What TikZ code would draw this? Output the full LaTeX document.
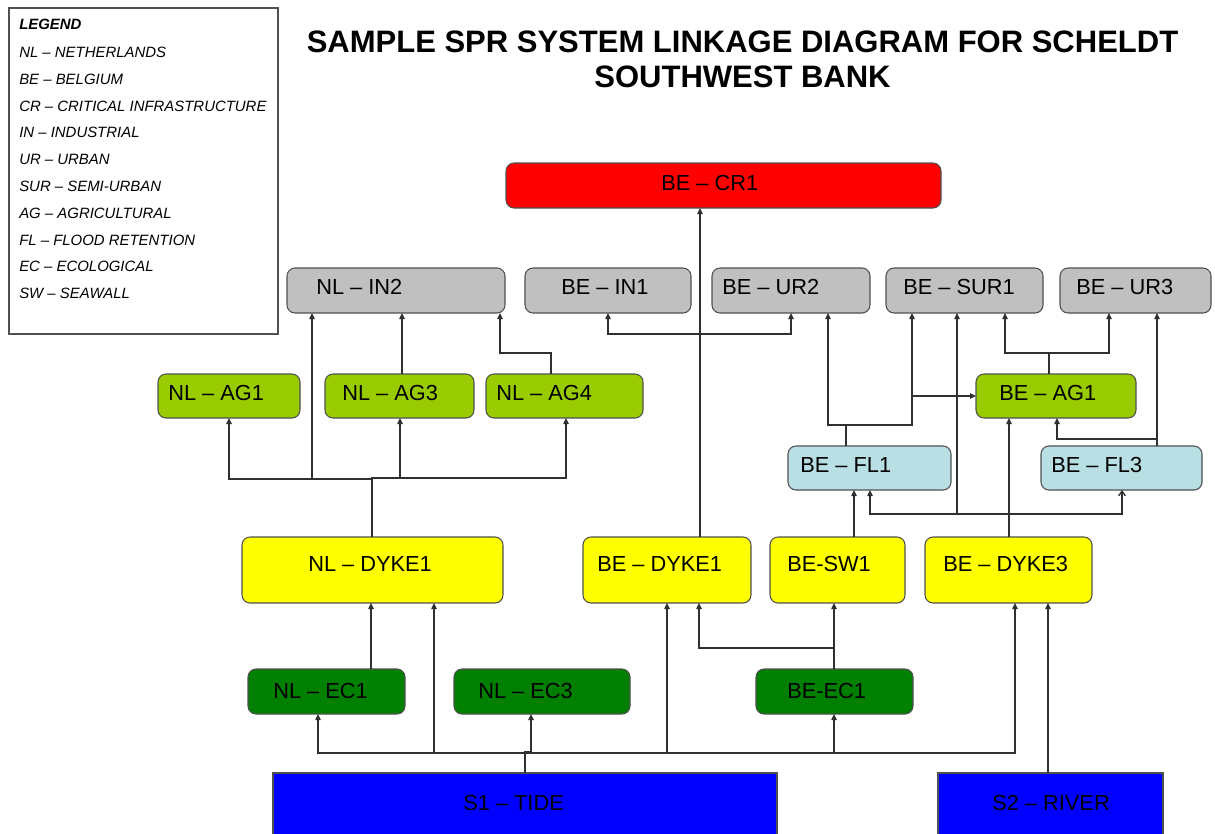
\documentclass[tikz,border=0pt]{standalone}
\usepackage{fontspec}
\setmainfont{Liberation Sans}
\usetikzlibrary{arrows.meta}
\definecolor{crred}{HTML}{FF0000}
\definecolor{boxgray}{HTML}{C0C0C0}
\definecolor{aggreen}{HTML}{99CC00}
\definecolor{flblue}{HTML}{B8E0E4}
\definecolor{dkyellow}{HTML}{FFFF00}
\definecolor{ecgreen}{HTML}{007F00}
\definecolor{srcblue}{HTML}{0000FF}
\definecolor{edge}{HTML}{505050}
\definecolor{wire}{HTML}{303030}
\newcommand\bx[6]{\node[#2, minimum width={(#5-#3)*0.75pt}, minimum height={(#6-#4)*0.75pt}] (#1) at ({(#3+#5)/2},{(#4+#6)/2}) {};}
\begin{document}
\begin{tikzpicture}[x=0.75pt,y=-0.75pt,
  box/.style={draw=edge, line width=0.8pt, rounded corners=6pt, inner sep=0pt, outer sep=0pt},
  srcbox/.style={draw=edge, line width=0.8pt, fill=srcblue, inner sep=0pt, outer sep=0pt},
  lbl/.style={anchor=base west, inner sep=0pt, font=\fontsize{16.35}{19}\selectfont},
  leg/.style={anchor=base west, inner sep=0pt, font=\fontsize{11.2}{13}\selectfont\itshape},
  ttl/.style={anchor=base, inner sep=0pt, font=\fontsize{23.25}{27}\selectfont\bfseries},
  link/.style={draw=wire, line width=1pt},
  arr/.style={link, -{Triangle[length=4.5pt,width=4pt]}},
  openarr/.style={link, -{Straight Barb[length=3.5pt,width=5pt]}}]
\useasboundingbox (0,0) rectangle (1215,833);
\fill[white] (0,0) rectangle (1215,833);
\clip (0,0) rectangle (1215,833);

% legend
\node[draw=edge, line width=0.8pt, inner sep=0pt, minimum width={269*0.75pt}, minimum height={326*0.75pt}] (legend) at (143.5,171) {};
\node[leg, font=\fontsize{11.2}{13}\selectfont\itshape\bfseries] (leg0) at (19,29.5) {LEGEND};
\node[leg] (leg1) at (19,57.5) {NL – NETHERLANDS};
\node[leg] (leg2) at (19,84.3) {BE – BELGIUM};
\node[leg] (leg3) at (19,111.1) {CR – CRITICAL INFRASTRUCTURE};
\node[leg] (leg4) at (19,137.9) {IN – INDUSTRIAL};
\node[leg] (leg5) at (19,164.7) {UR – URBAN};
\node[leg] (leg6) at (19,191.5) {SUR – SEMI-URBAN};
\node[leg] (leg7) at (19,218.3) {AG – AGRICULTURAL};
\node[leg] (leg8) at (19,245.1) {FL – FLOOD RETENTION};
\node[leg] (leg9) at (19,271.9) {EC – ECOLOGICAL};
\node[leg] (leg10) at (19,298.7) {SW – SEAWALL};

% title
\node[ttl] (title1) at (742.5,52) {SAMPLE SPR SYSTEM LINKAGE DIAGRAM FOR SCHELDT};
\node[ttl] (title2) at (742.5,87) {SOUTHWEST BANK};

% boxes
\bx{becr1}{box, fill=crred}{506}{163}{941}{208}
\bx{nlin2}{box, fill=boxgray}{287}{268}{505}{313}
\bx{bein1}{box, fill=boxgray}{525}{268}{691}{313}
\bx{beur2}{box, fill=boxgray}{712}{268}{870}{313}
\bx{besur1}{box, fill=boxgray}{886}{268}{1043}{313}
\bx{beur3}{box, fill=boxgray}{1060}{268}{1211}{313}
\bx{nlag1}{box, fill=aggreen}{158}{374}{300}{418}
\bx{nlag3}{box, fill=aggreen}{325}{374}{474}{418}
\bx{nlag4}{box, fill=aggreen}{486}{374}{643}{418}
\bx{beag1}{box, fill=aggreen}{976}{374}{1136}{418}
\bx{befl1}{box, fill=flblue}{788}{446}{951}{490}
\bx{befl3}{box, fill=flblue}{1041}{446}{1202}{490}
\bx{nldyke1}{box, fill=dkyellow}{242}{537}{503}{603}
\bx{bedyke1}{box, fill=dkyellow}{583}{537}{751}{603}
\bx{besw1}{box, fill=dkyellow}{770}{537}{905}{603}
\bx{bedyke3}{box, fill=dkyellow}{925}{537}{1092}{603}
\bx{nlec1}{box, fill=ecgreen}{248}{669}{405}{714}
\bx{nlec3}{box, fill=ecgreen}{454}{669}{630}{714}
\bx{beec1}{box, fill=ecgreen}{756}{669}{913}{714}
\bx{s1}{srcbox}{273}{773}{777}{850}
\bx{s2}{srcbox}{938}{773}{1163}{850}

% labels
\node[lbl] (becr1-t) at (661,190) {BE – CR1};
\node[lbl] (nlin2-t) at (316,294) {NL – IN2};
\node[lbl] (bein1-t) at (561,294) {BE – IN1};
\node[lbl] (beur2-t) at (722,294) {BE – UR2};
\node[lbl] (besur1-t) at (903,294) {BE – SUR1};
\node[lbl] (beur3-t) at (1076,294) {BE – UR3};
\node[lbl] (nlag1-t) at (168,400) {NL – AG1};
\node[lbl] (nlag3-t) at (342,400) {NL – AG3};
\node[lbl] (nlag4-t) at (496,400) {NL – AG4};
\node[lbl] (beag1-t) at (999,400) {BE – AG1};
\node[lbl] (befl1-t) at (800,472) {BE – FL1};
\node[lbl] (befl3-t) at (1051,472) {BE – FL3};
\node[lbl] (nldyke1-t) at (308,571) {NL – DYKE1};
\node[lbl] (bedyke1-t) at (597,571) {BE – DYKE1};
\node[lbl] (besw1-t) at (787,571) {BE-SW1};
\node[lbl] (bedyke3-t) at (943,571) {BE – DYKE3};
\node[lbl] (nlec1-t) at (273,698) {NL – EC1};
\node[lbl] (nlec3-t) at (478,698) {NL – EC3};
\node[lbl] (beec1-t) at (787,698) {BE-EC1};
\node[lbl] (s1-t) at (463,810) {S1 – TIDE};
\node[lbl] (s2-t) at (992,810) {S2 – RIVER};

% connectors from S1 - TIDE
\draw[arr] (s1.north) |- (318,753) -- (nlec1.south -| 318,0);
\draw[arr] (s1.north) |- (434,753) -- (nldyke1.south -| 434,0);
\draw[arr] (s1.north) |- (531,752) -- (nlec3.south -| 531,0);
\draw[arr] (s1.north) |- (667,753) -- (bedyke1.south -| 667,0);
\draw[arr] (s1.north) |- (834,753) -- (beec1.south -| 834,0);
\draw[arr] (s1.north) |- (1015,753) -- (bedyke3.south -| 1015,0);
% S2 - RIVER
\draw[arr] (s2.north -| 1048,0) -- (bedyke3.south -| 1048,0);
% ecological
\draw[arr] (nlec1.north -| 371,0) -- (nldyke1.south -| 371,0);
\draw[arr] (beec1.north -| 834,0) -- (besw1.south -| 834,0);
\draw[arr] (beec1.north -| 834,0) |- (699,648) -- (bedyke1.south -| 699,0);
% NL dyke
\draw[arr] (nldyke1.north -| 372,0) |- (229,479) -- (nlag1.south -| 229,0);
\draw[arr] (nldyke1.north -| 372,0) |- (312,479) -- (nlin2.south -| 312,0);
\draw[arr] (nldyke1.north -| 372,0) |- (400,478) -- (nlag3.south -| 400,0);
\draw[arr] (nldyke1.north -| 372,0) |- (566,478) -- (nlag4.south -| 566,0);
\draw[arr] (nlag3.north -| 402,0) -- (nlin2.south -| 402,0);
\draw[arr] (nlag4.north -| 551,0) |- (500,353) -- (nlin2.south -| 500,0);
% BE dyke 1
\draw[arr] (bedyke1.north -| 700,0) -- (becr1.south -| 700,0);
\draw[arr] (bedyke1.north -| 700,0) |- (608,334) -- (bein1.south -| 608,0);
\draw[arr] (bedyke1.north -| 700,0) |- (791,334) -- (beur2.south -| 791,0);
% seawall
\draw[arr] (besw1.north -| 854,0) -- (befl1.south -| 854,0);
% BE dyke 3
\draw[arr] (bedyke3.north -| 1009,0) -- (beag1.south -| 1009,0);
\draw[arr] (bedyke3.north -| 1009,0) |- (870,514) -- (befl1.south -| 870,0);
\draw[arr] (bedyke3.north -| 1009,0) |- (957,514) -- (besur1.south -| 957,0);
\draw[openarr] (bedyke3.north -| 1009,0) |- (1122,514) -- (befl3.south -| 1122,0);
% flood retention 1
\draw[arr] (befl1.north -| 846,0) |- (828,425) -- (beur2.south -| 828,0);
\draw[arr] (befl1.north -| 846,0) |- (912,425) -- (besur1.south -| 912,0);
\draw[arr] (befl1.north -| 846,0) |- (912,425) |- (beag1.west);
% BE AG1
\draw[arr] (beag1.north -| 1049,0) |- (1005,353) -- (besur1.south -| 1005,0);
\draw[arr] (beag1.north -| 1049,0) |- (1109,353) -- (beur3.south -| 1109,0);
% flood retention 3
\draw[arr] (befl3.north -| 1157,0) -- (beur3.south -| 1157,0);
\draw[arr] (befl3.north -| 1157,0) |- (1057,439) -- (beag1.south -| 1057,0);
\end{tikzpicture}
\end{document}
